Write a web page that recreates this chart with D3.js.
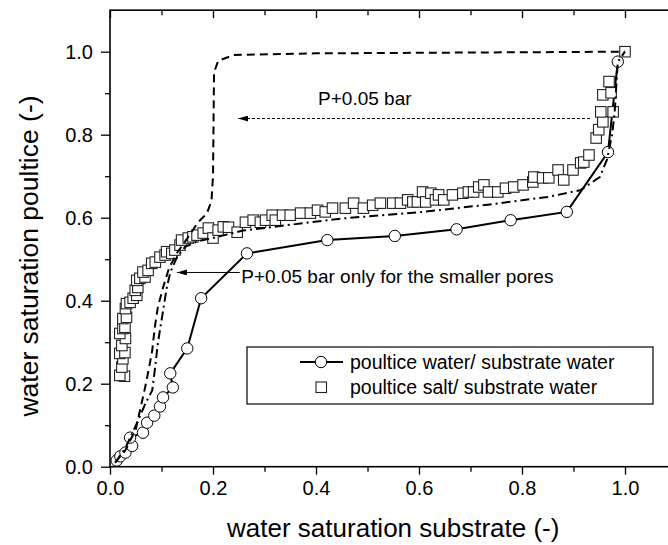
<!DOCTYPE html>
<html><head><meta charset="utf-8">
<script src="https://cdn.jsdelivr.net/npm/d3@7"></script>
<style>body{margin:0;background:#fff}svg{display:block}text{font-family:"Liberation Sans",Arial,sans-serif;fill:#000}</style>
</head><body><svg id="c" width="668" height="545"></svg>
<script>
// ---- data ----
const xMajorTicks = [0, 0.2, 0.4, 0.6, 0.8, 1.0];
const xTickLabels = ["0.0", "0.2", "0.4", "0.6", "0.8", "1.0"];
const yMajorTicks = [0, 0.2, 0.4, 0.6, 0.8, 1.0];
const yTickLabels = ["0.0", "0.2", "0.4", "0.6", "0.8", "1.0"];
const minorTicks = [0.1, 0.3, 0.5, 0.7, 0.9];

const waterX = [0.013,0.02,0.03,0.043,0.039,0.064,0.072,0.086,0.097,0.103,0.122,0.117,0.150,0.177,0.266,0.422,0.553,0.673,0.778,0.887,0.967,0.986];
const waterY = [0.015,0.025,0.034,0.05,0.07,0.082,0.106,0.123,0.145,0.167,0.191,0.225,0.285,0.406,0.514,0.546,0.556,0.572,0.594,0.614,0.758,0.976];

const saltX = [0.028,0.019,0.023,0.025,0.019,0.029,0.023,0.03,0.019,0.025,0.029,0.025,0.032,0.03,0.032,0.039,0.045,0.052,0.049,0.054,0.052,0.058,0.068,0.064,0.074,0.081,0.088,0.097,0.107,0.11,0.12,0.126,0.136,0.139,0.152,0.161,0.169,0.181,0.191,0.2,0.21,0.22,
  0.23,0.247,0.263,0.278,0.292,0.302,0.315,0.321,0.335,0.35,0.37,0.389,0.403,0.418,0.432,0.457,
  0.473,0.492,0.51,0.525,0.549,0.564,0.578,0.588,0.597,0.607,0.613,0.623,0.632,0.638,0.648,0.665,0.685,0.696,0.706,0.716,0.726,
  0.735,0.753,0.768,0.784,0.802,0.821,0.823,0.84,0.852,0.87,0.881,0.899,0.914,0.92,0.93,
  0.944,0.949,0.957,0.953,0.977,0.957,0.973,0.969,1.0];
const saltY = [0.218,0.22,0.24,0.26,0.273,0.275,0.292,0.309,0.321,0.333,0.336,0.357,0.36,0.381,0.393,0.396,0.406,0.413,0.425,0.432,0.449,0.454,0.457,0.469,0.473,0.49,0.493,0.505,0.51,0.518,0.514,0.522,0.534,0.546,0.551,0.554,0.558,0.563,0.575,0.551,0.57,0.578,
  0.577,0.565,0.589,0.594,0.589,0.594,0.606,0.594,0.606,0.606,0.611,0.611,0.618,0.614,0.623,0.623,
  0.635,0.623,0.63,0.635,0.635,0.635,0.643,0.638,0.638,0.662,0.638,0.659,0.643,0.655,0.643,0.655,0.659,0.662,0.662,0.674,0.679,
  0.662,0.662,0.671,0.674,0.679,0.686,0.698,0.696,0.696,0.715,0.691,0.715,0.732,0.734,0.751,
  0.792,0.812,0.831,0.855,0.855,0.896,0.901,0.928,1.0];

const dashedX = [0.01,0.03,0.05,0.068,0.075,0.082,0.087,0.093,0.103,0.115,0.13,0.15,0.171,0.188,0.197,0.2,0.202,0.21,0.24,0.4,1.0];
const dashedY = [0.01,0.04,0.09,0.19,0.233,0.28,0.336,0.385,0.432,0.48,0.515,0.55,0.589,0.61,0.64,0.7,0.95,0.978,0.992,0.996,1.0];

const dashdotX = [0.01,0.03,0.052,0.068,0.082,0.087,0.093,0.101,0.11,0.117,0.13,0.146,0.17,0.2,0.258,0.45,0.6,0.738,0.85,0.913,0.951,0.965,0.975,0.98,0.986,1.0];
const dashdotY = [0.01,0.045,0.104,0.15,0.184,0.233,0.298,0.36,0.43,0.468,0.505,0.53,0.543,0.551,0.569,0.598,0.613,0.632,0.65,0.666,0.698,0.74,0.8,0.855,0.976,1.0];

const legendLabels = ["poultice water/ substrate water", "poultice salt/ substrate water"];
const annot1 = {text: "P+0.05 bar", tx: 0.404, ty: 0.872, x0: 0.932, x1: 0.249, y: 0.839};
const annot2 = {text: "P+0.05 bar only for the smaller pores", tx: 0.255, ty: 0.443, x0: 0.252, x1: 0.130, y: 0.468};
const xTitle = "water saturation substrate (-)";
const yTitle = "water saturation poultice (-)";

// ---- layout ----
const L = 110, R = 676.5, T = 10.2, B = 466.7;
const x = d3.scaleLinear().domain([0, 1.1]).range([L, R]);
const y = d3.scaleLinear().domain([0, 1.1]).range([B, T]);
const svg = d3.select("#c");

svg.append("defs").append("marker").attr("id","ah").attr("viewBox","0 0 10 6").attr("refX",10).attr("refY",3)
  .attr("markerWidth",10).attr("markerHeight",6).attr("markerUnits","userSpaceOnUse").attr("orient","auto")
  .append("path").attr("d","M0,0 L10,3 L0,6 Z").attr("fill","#000");

// frame
svg.append("rect").attr("x",L).attr("y",T).attr("width",R-L).attr("height",B-T).attr("fill","none").attr("stroke","#000").attr("stroke-width",1.6);

// axes
const fmtMap = (ticks, labels) => d => labels[ticks.findIndex(t => Math.abs(t-d) < 1e-9)];
svg.append("g").attr("transform",`translate(0,${B})`)
  .call(d3.axisBottom(x).tickValues(xMajorTicks).tickFormat(fmtMap(xMajorTicks,xTickLabels)).tickSize(8).tickPadding(6));
svg.append("g").attr("transform",`translate(0,${B})`).call(d3.axisBottom(x).tickValues(minorTicks).tickFormat("").tickSize(5));
svg.append("g").attr("transform",`translate(${L},0)`)
  .call(d3.axisLeft(y).tickValues(yMajorTicks).tickFormat(fmtMap(yMajorTicks,yTickLabels)).tickSize(9).tickPadding(8));
svg.append("g").attr("transform",`translate(${L},0)`).call(d3.axisLeft(y).tickValues(minorTicks).tickFormat("").tickSize(5));
svg.append("g").attr("transform",`translate(0,${T})`).call(d3.axisBottom(x).tickValues(xMajorTicks).tickFormat("").tickSize(8));
svg.append("g").attr("transform",`translate(0,${T})`).call(d3.axisBottom(x).tickValues(minorTicks).tickFormat("").tickSize(5));
svg.append("g").attr("transform",`translate(${R},0)`).call(d3.axisLeft(y).tickValues(yMajorTicks).tickFormat("").tickSize(8));
svg.append("g").attr("transform",`translate(${R},0)`).call(d3.axisLeft(y).tickValues(minorTicks).tickFormat("").tickSize(5));
svg.selectAll(".domain").remove();
svg.selectAll(".tick line").attr("stroke","#000").attr("stroke-width",1.3);
svg.selectAll(".tick text").attr("font-size",20).attr("font-family",'"Liberation Sans",Arial,sans-serif').attr("fill","#000");

// titles
svg.append("text").attr("x",(L+R)/2).attr("y",537).attr("text-anchor","middle").attr("font-size",26).text(xTitle);
svg.append("text").attr("transform",`translate(38,256) rotate(-90)`).attr("text-anchor","middle").attr("font-size",26.5).text(yTitle);

const line = d3.line().x(d => x(d[0])).y(d => y(d[1]));
const zip = (a, b) => a.map((v, i) => [v, b[i]]);

// water line + circles
svg.append("path").datum(zip(waterX, waterY)).attr("d", line).attr("fill","none").attr("stroke","#000").attr("stroke-width",2);
svg.append("g").selectAll("circle").data(zip(waterX, waterY)).join("circle")
  .attr("cx", d => x(d[0])).attr("cy", d => y(d[1])).attr("r",5.7).attr("fill","#fff").attr("stroke","#000").attr("stroke-width",1);

// salt squares
svg.append("g").selectAll("rect").data(zip(saltX, saltY)).join("rect")
  .attr("x", d => x(d[0]) - 5.25).attr("y", d => y(d[1]) - 5.25).attr("width",10.5).attr("height",10.5)
  .attr("fill","#fff").attr("stroke","#222").attr("stroke-width",1.1);

// dashed & dash-dot curves
svg.append("path").datum(zip(dashedX, dashedY)).attr("d", line).attr("fill","none").attr("stroke","#000").attr("stroke-width",2).attr("stroke-dasharray","8,5");
svg.append("path").datum(zip(dashdotX, dashdotY)).attr("d", line).attr("fill","none").attr("stroke","#000").attr("stroke-width",2).attr("stroke-dasharray","9,4,2,4");

// annotations
svg.append("line").attr("x1",x(annot1.x0)).attr("x2",x(annot1.x1)).attr("y1",y(annot1.y)).attr("y2",y(annot1.y))
  .attr("stroke","#000").attr("stroke-width",1).attr("stroke-dasharray","3,2").attr("marker-end","url(#ah)");
svg.append("text").attr("x",x(annot1.tx)).attr("y",y(annot1.ty)).attr("font-size",19).text(annot1.text);
svg.append("line").attr("x1",x(annot2.x0)).attr("x2",x(annot2.x1)).attr("y1",y(annot2.y)).attr("y2",y(annot2.y))
  .attr("stroke","#000").attr("stroke-width",1).attr("marker-end","url(#ah)");
svg.append("text").attr("x",x(annot2.tx)).attr("y",y(annot2.ty)).attr("font-size",19).text(annot2.text);

// legend
const lg = svg.append("g");
lg.append("rect").attr("x",247).attr("y",347).attr("width",406).attr("height",57).attr("fill","#fff").attr("stroke","#000").attr("stroke-width",1.2);
lg.append("line").attr("x1",300).attr("x2",343).attr("y1",362).attr("y2",362).attr("stroke","#000").attr("stroke-width",2);
lg.append("circle").attr("cx",321).attr("cy",362).attr("r",5.7).attr("fill","#fff").attr("stroke","#000");
lg.append("rect").attr("x",316).attr("y",382).attr("width",10.5).attr("height",10.5).attr("fill","#fff").attr("stroke","#222").attr("stroke-width",1.1);
lg.selectAll("text.l").data(legendLabels).join("text").attr("class","l")
  .attr("x",350).attr("y",(d,i) => 369 + i*25).attr("font-size",19.5).text(d => d);
</script></body></html>
